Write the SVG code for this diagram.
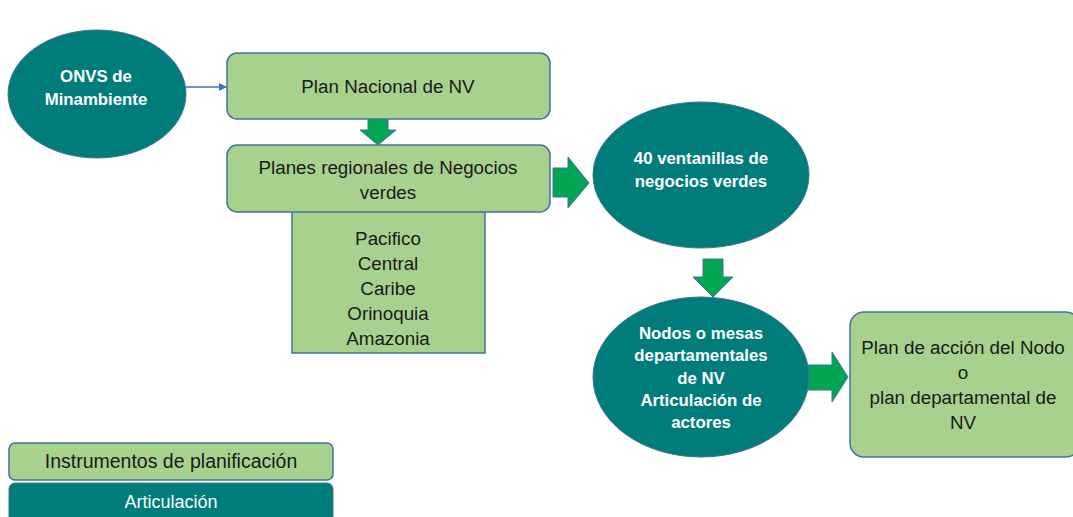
<svg xmlns="http://www.w3.org/2000/svg" width="1073" height="517" viewBox="0 0 1073 517">
<defs>
<style>
.gbox{fill:#a9d18e;stroke:#41719c;stroke-width:1.5}
.teal{fill:#007c7a;stroke:#41719c;stroke-width:1}
.arr{fill:#00a651;stroke:#41719c;stroke-width:1}
.dt{font-family:"Liberation Sans",Arial,sans-serif;font-size:18.8px;fill:#1a1a1a;text-anchor:middle}
.wt{font-family:"Liberation Sans",Arial,sans-serif;font-size:16.8px;font-weight:bold;fill:#ffffff;text-anchor:middle}
.lt{font-family:"Liberation Sans",Arial,sans-serif;font-size:18px;fill:#ffffff;text-anchor:middle}
</style>
<marker id="ah" markerWidth="8" markerHeight="8" refX="7" refY="4" orient="auto" markerUnits="userSpaceOnUse">
<path d="M0,0 L8,4 L0,8 Z" fill="#4472c4"/>
</marker>
</defs>
<rect width="1073" height="517" fill="#ffffff"/>

<g id="connectors">
<line x1="186" y1="87" x2="226" y2="87" stroke="#4472c4" stroke-width="1.5" marker-end="url(#ah)"/>
<path class="arr" d="M368,119 H388 V130 H396 L378,145 L360,130 H368 Z"/>
<path class="arr" d="M553,168 H568 V157 L589,183 L568,208 V197 H553 Z"/>
<path class="arr" d="M703,259 H723 V277 H733 L713,297 L693,277 H703 Z"/>
<path class="arr" d="M808,365 H832 V352 L848,377 L832,402 V390 H808 Z"/>
</g>

<g id="onvs">
<ellipse class="teal" cx="97" cy="94" rx="89" ry="64"/>
<text class="wt" x="96" y="82">ONVS de</text>
<text class="wt" x="96" y="105">Minambiente</text>
</g>

<g id="plan-nacional">
<rect class="gbox" x="227" y="53" width="323" height="66" rx="10"/>
<text class="dt" x="388" y="93">Plan Nacional de NV</text>
</g>

<g id="regiones">
<rect class="gbox" x="292" y="210" width="193" height="143"/>
<text class="dt" x="388" y="245">Pacifico</text>
<text class="dt" x="388" y="270">Central</text>
<text class="dt" x="388" y="295">Caribe</text>
<text class="dt" x="388" y="320">Orinoquia</text>
<text class="dt" x="388" y="345">Amazonia</text>
</g>

<g id="planes-regionales">
<rect class="gbox" x="227" y="145" width="323" height="67" rx="10"/>
<text class="dt" x="388" y="174">Planes regionales de Negocios</text>
<text class="dt" x="388" y="199">verdes</text>
</g>

<g id="ventanillas">
<ellipse class="teal" cx="701" cy="175" rx="108" ry="73"/>
<text class="wt" x="701" y="164">40 ventanillas de</text>
<text class="wt" x="701" y="187">negocios verdes</text>
</g>

<g id="nodos">
<ellipse class="teal" cx="701" cy="377" rx="108" ry="80"/>
<text class="wt" x="701" y="339">Nodos o mesas</text>
<text class="wt" x="701" y="361">departamentales</text>
<text class="wt" x="701" y="384">de NV</text>
<text class="wt" x="701" y="406">Articulación de</text>
<text class="wt" x="701" y="428">actores</text>
</g>

<g id="plan-accion">
<rect class="gbox" x="850" y="312" width="230" height="145" rx="14"/>
<text class="dt" x="963" y="354">Plan de acción del Nodo</text>
<text class="dt" x="963" y="379">o</text>
<text class="dt" x="963" y="404">plan departamental de</text>
<text class="dt" x="963" y="429">NV</text>
</g>

<g id="legend-instrumentos">
<rect class="gbox" x="9" y="443" width="324" height="37" rx="6"/>
<text class="dt" x="171" y="468" style="font-size:19.5px">Instrumentos de planificación</text>
</g>
<g id="legend-articulacion">
<rect x="9" y="483" width="324" height="45" rx="6" fill="#007c7a" stroke="#41719c" stroke-width="1"/>
<text class="lt" x="171" y="508">Articulación</text>
</g>
</svg>
